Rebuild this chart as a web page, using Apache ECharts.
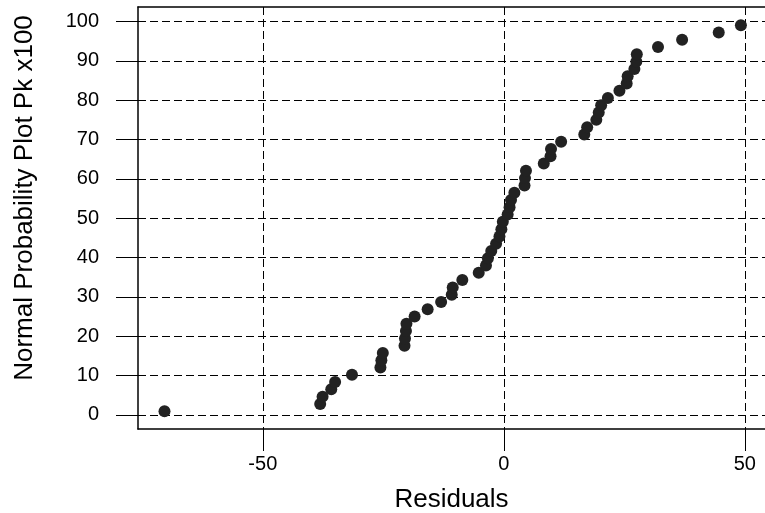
<!DOCTYPE html>
<html>
<head>
<meta charset="utf-8">
<script src="https://cdn.jsdelivr.net/npm/echarts@6/dist/echarts.min.js"></script>
<style>
  html, body { margin: 0; padding: 0; background: #fff; }
  #chart { width: 765px; height: 513px; }
</style>
</head>
<body>
<div id="chart"></div>
<script>
// Sorted residuals (x) and their normal plotting positions in percent (y)
const residuals = [
  -70.4, -38.1, -37.6, -35.8, -35.0, -31.5, -25.6, -25.4, -25.1, -20.6,
  -20.5, -20.3, -20.2, -18.5, -15.8, -13.0, -10.8, -10.6, -8.6, -5.2,
  -3.7, -3.3, -2.6, -1.6, -0.9, -0.5, -0.2, 0.8, 1.2, 1.5,
  2.2, 4.3, 4.4, 4.6, 8.3, 9.7, 9.8, 11.9, 16.7, 17.3,
  19.2, 19.7, 20.2, 21.6, 24.0, 25.5, 25.7, 27.1, 27.5, 27.6,
  32.0, 37.0, 44.6, 49.2
];
const probability = [
  0.93, 2.78, 4.63, 6.48, 8.33, 10.19, 12.04, 13.89, 15.74, 17.59,
  19.44, 21.30, 23.15, 25.00, 26.85, 28.70, 30.56, 32.41, 34.26, 36.11,
  37.96, 39.81, 41.67, 43.52, 45.37, 47.22, 49.07, 50.93, 52.78, 54.63,
  56.48, 58.33, 60.19, 62.04, 63.89, 65.74, 67.59, 69.44, 71.30, 73.15,
  75.00, 76.85, 78.70, 80.56, 82.41, 84.26, 86.11, 87.96, 89.81, 91.67,
  93.52, 95.37, 97.22, 99.07
];
const xTicks = [-50, 0, 50];
const yTicks = [0, 10, 20, 30, 40, 50, 60, 70, 80, 90, 100];

const points = residuals.map((r, i) => [r, probability[i]]);

const FONT = '"Liberation Sans", Arial, sans-serif';
const dashed = { type: [8, 4], color: '#000', width: 1 };

const chart = echarts.init(document.getElementById('chart'), null, { renderer: 'canvas' });
chart.setOption({
  backgroundColor: '#fff',
  animation: false,
  grid: { left: 138, top: 7, right: 0, bottom: 84, containLabel: false, outerBoundsMode: 'none' },
  xAxis: [
    {
      type: 'value',
      min: -75.9, max: 54.2,
      name: 'Residuals',
      nameLocation: 'middle',
      nameGap: 58,
      nameTextStyle: { fontFamily: FONT, fontSize: 26, color: '#000' },
      axisLine: { show: true, onZero: false, lineStyle: { color: '#000', width: 1.5 } },
      axisTick: { show: true, inside: false, length: 22, customValues: xTicks, lineStyle: { color: '#000', width: 1 } },
      axisLabel: { customValues: xTicks, margin: 25, fontFamily: FONT, fontSize: 20, color: '#000' },
      splitLine: { show: true, lineStyle: dashed }
    },
    {
      type: 'value',
      position: 'top',
      min: -75.9, max: 54.2,
      axisLine: { show: true, onZero: false, lineStyle: { color: '#000', width: 1.5 } },
      axisTick: { show: false },
      axisLabel: { show: false },
      splitLine: { show: false }
    }
  ],
  yAxis: {
    type: 'value',
    min: -3.6, max: 103.7,
    name: 'Normal Probability Plot Pk x100',
    nameLocation: 'middle',
    nameGap: 100,
    nameTextStyle: { fontFamily: FONT, fontSize: 26, color: '#000', padding: [0, 0, 0, 40] },
    axisLine: { show: true, onZero: false, lineStyle: { color: '#000', width: 1.5 } },
    axisTick: { show: true, inside: false, length: 22, customValues: yTicks, lineStyle: { color: '#000', width: 1 } },
    axisLabel: { customValues: yTicks, margin: 39, fontFamily: FONT, fontSize: 20, color: '#000' },
    splitLine: { show: true, lineStyle: dashed }
  },
  series: [{
    type: 'scatter',
    data: points,
    symbol: 'circle',
    symbolSize: 12,
    itemStyle: { color: '#222', opacity: 1 }
  }]
});
</script>
</body>
</html>
